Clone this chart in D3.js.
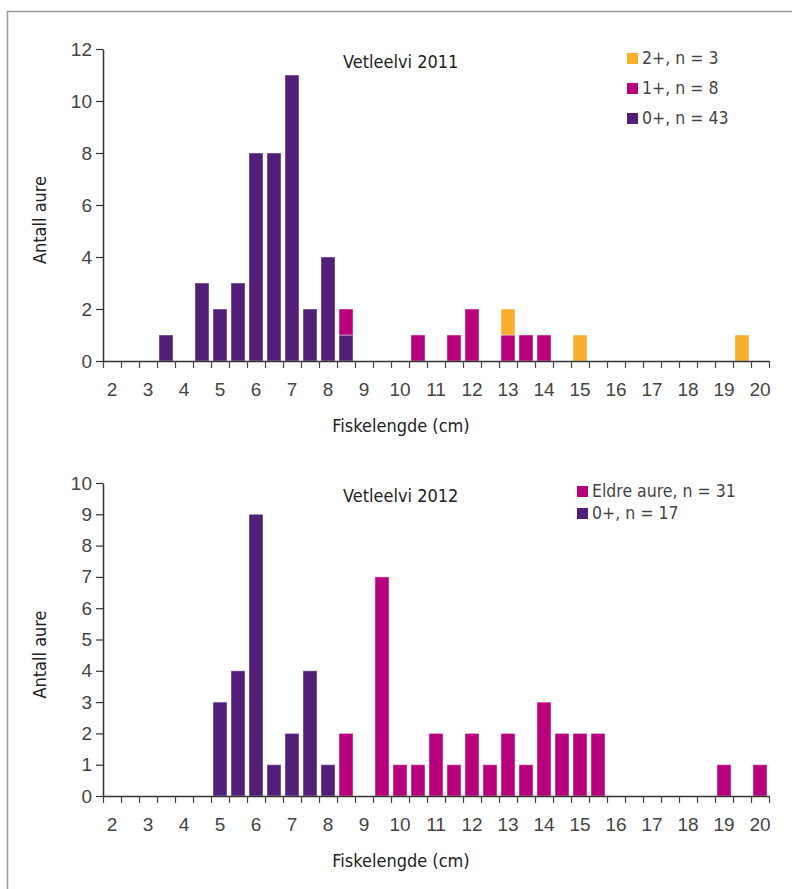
<!DOCTYPE html>
<html>
<head>
<meta charset="utf-8">
<script src="https://cdn.jsdelivr.net/npm/d3@7"></script>
<style>
  body { margin: 0; background: #fff; }
  svg { display: block; font-family: "DejaVu Sans Condensed", "Liberation Sans Narrow", sans-serif; }
</style>
</head>
<body>
<div id="grafico"></div>
<script>
// lengdeklasser (cm), 0.5 cm
const lengder = [2, 2.5, 3, 3.5, 4, 4.5, 5, 5.5, 6, 6.5, 7, 7.5, 8, 8.5, 9, 9.5, 10, 10.5, 11, 11.5,
  12, 12.5, 13, 13.5, 14, 14.5, 15, 15.5, 16, 16.5, 17, 17.5, 18, 18.5, 19, 19.5, 20];
const xEtiketter = [2, 3, 4, 5, 6, 7, 8, 9, 10, 11, 12, 13, 14, 15, 16, 17, 18, 19, 20];

// Vetleelvi 2011
const null2011 = [0, 0, 0, 1, 0, 3, 2, 3, 8, 8, 11, 2, 4, 1, 0, 0, 0, 0, 0, 0, 0, 0, 0, 0, 0, 0, 0, 0, 0, 0, 0, 0, 0, 0, 0, 0, 0];
const en2011   = [0, 0, 0, 0, 0, 0, 0, 0, 0, 0, 0, 0, 0, 1, 0, 0, 0, 1, 0, 1, 2, 0, 1, 1, 1, 0, 0, 0, 0, 0, 0, 0, 0, 0, 0, 0, 0];
const to2011   = [0, 0, 0, 0, 0, 0, 0, 0, 0, 0, 0, 0, 0, 0, 0, 0, 0, 0, 0, 0, 0, 0, 1, 0, 0, 0, 1, 0, 0, 0, 0, 0, 0, 0, 0, 1, 0];
const yTicks2011 = [0, 2, 4, 6, 8, 10, 12];

// Vetleelvi 2012
const null2012  = [0, 0, 0, 0, 0, 0, 3, 4, 9, 1, 2, 4, 1, 0, 0, 0, 0, 0, 0, 0, 0, 0, 0, 0, 0, 0, 0, 0, 0, 0, 0, 0, 0, 0, 0, 0, 0];
const eldre2012 = [0, 0, 0, 0, 0, 0, 0, 0, 0, 0, 0, 0, 0, 2, 0, 7, 1, 1, 2, 1, 2, 1, 2, 1, 3, 2, 2, 2, 0, 0, 0, 0, 0, 0, 1, 0, 1];
const yTicks2012 = [0, 1, 2, 3, 4, 5, 6, 7, 8, 9, 10];

const farger = { null: '#521f78', en: '#b8007d', to: '#f9ae2c' };

const W = 792, H = 889;
const svg = d3.select('#grafico').append('svg').attr('width', W).attr('height', H);

// ramme (kun venstre og topp)
svg.append('path')
  .attr('d', `M7.5,${H} L7.5,11.5 L${W},11.5`)
  .attr('fill', 'none')
  .attr('stroke', '#9a9a9a')
  .attr('stroke-width', 1.5);

function lagPanel(opt) {
  const g = svg.append('g');
  const left = 103, right = 769;

  const x = d3.scaleBand()
    .domain(lengder)
    .range([left, right])
    .paddingInner(0.22)
    .paddingOuter(0.11);

  const y = d3.scaleLinear()
    .domain([0, opt.yMax])
    .range([opt.bottom, opt.top]);

  const tabell = lengder.map((l, i) => {
    const rad = { lengde: l };
    opt.serier.forEach(s => { rad[s.key] = s.verdier[i]; });
    return rad;
  });
  const stack = d3.stack().keys(opt.serier.map(s => s.key))(tabell);

  g.selectAll('g.lag')
    .data(stack)
    .enter().append('g')
    .attr('class', 'lag')
    .attr('fill', d => opt.serier.find(s => s.key === d.key).farge)
    .selectAll('rect')
    .data(d => d.filter(p => p[1] - p[0] > 0))
    .enter().append('rect')
    .attr('x', d => x(d.data.lengde))
    .attr('y', d => y(d[1]))
    .attr('width', x.bandwidth())
    .attr('height', d => y(d[0]) - y(d[1]))
    .attr('stroke', '#ffffff')
    .attr('stroke-opacity', 0.45)
    .attr('stroke-width', 1);

  // y-akse
  const yAkse = g.append('g')
    .attr('transform', `translate(${left},0)`)
    .call(d3.axisLeft(y).tickValues(opt.yTicks).tickSize(7).tickPadding(4).tickSizeOuter(0));
  yAkse.select('.domain').attr('stroke', '#333').attr('stroke-width', 1.5);
  yAkse.selectAll('.tick line').attr('stroke', '#333').attr('stroke-width', 1.2);
  yAkse.selectAll('text').style('font-size', '19px').attr('fill', '#444');

  // x-akse: streker mellom klassene
  const idx = d3.scaleLinear().domain([0, lengder.length]).range([left, right]);
  const xStreker = g.append('g')
    .attr('transform', `translate(0,${opt.bottom})`)
    .call(d3.axisBottom(idx).tickValues(d3.range(lengder.length + 1)).tickFormat('').tickSize(7).tickSizeOuter(0));
  xStreker.select('.domain').attr('stroke', '#333').attr('stroke-width', 1.5);
  xStreker.selectAll('.tick line').attr('stroke', '#444').attr('stroke-width', 1.2);

  // x-akse: etiketter på hele cm
  const xAkse = g.append('g')
    .attr('transform', `translate(0,${opt.bottom})`)
    .call(d3.axisBottom(x).tickValues(xEtiketter).tickSize(0).tickPadding(22));
  xAkse.select('.domain').remove();
  xAkse.selectAll('text').style('font-size', '19px').attr('fill', '#444');

  // titler
  g.append('text')
    .attr('x', 343)
    .attr('y', opt.tittelY)
    .style('font-size', '18px')
    .attr('fill', '#222')
    .text(opt.tittel);

  g.append('text')
    .attr('x', 401)
    .attr('y', opt.bottom + 71)
    .attr('text-anchor', 'middle')
    .style('font-size', '18px')
    .attr('fill', '#222')
    .text('Fiskelengde (cm)');

  g.append('text')
    .attr('transform', `translate(46,${(opt.top + opt.bottom) / 2 + 15}) rotate(-90)`)
    .attr('text-anchor', 'middle')
    .style('font-size', '18px')
    .attr('fill', '#222')
    .text('Antall aure');

  // legende
  const leg = g.selectAll('g.leg')
    .data(opt.legende)
    .enter().append('g')
    .attr('class', 'leg')
    .attr('transform', (d, i) => `translate(${opt.legX},${opt.legY + i * opt.legStep})`);
  leg.append('rect')
    .attr('width', 11).attr('height', 11)
    .attr('fill', d => d.farge);
  leg.append('text')
    .attr('x', 15)
    .attr('y', 11)
    .style('font-size', '17.5px')
    .attr('fill', '#444')
    .text(d => d.tekst);
}

lagPanel({
  top: 49, bottom: 361, yMax: 12, yTicks: yTicks2011,
  tittel: 'Vetleelvi 2011', tittelY: 68,
  serier: [
    { key: 'null', verdier: null2011, farge: farger.null },
    { key: 'en', verdier: en2011, farge: farger.en },
    { key: 'to', verdier: to2011, farge: farger.to }
  ],
  legX: 627, legY: 53, legStep: 30,
  legende: [
    { tekst: '2+, n = 3', farge: farger.to },
    { tekst: '1+, n = 8', farge: farger.en },
    { tekst: '0+, n = 43', farge: farger.null }
  ]
});

lagPanel({
  top: 483, bottom: 796, yMax: 10, yTicks: yTicks2012,
  tittel: 'Vetleelvi 2012', tittelY: 502,
  serier: [
    { key: 'null', verdier: null2012, farge: farger.null },
    { key: 'eldre', verdier: eldre2012, farge: farger.en }
  ],
  legX: 577, legY: 486, legStep: 22,
  legende: [
    { tekst: 'Eldre aure, n = 31', farge: farger.en },
    { tekst: '0+, n = 17', farge: farger.null }
  ]
});
</script>
</body>
</html>
